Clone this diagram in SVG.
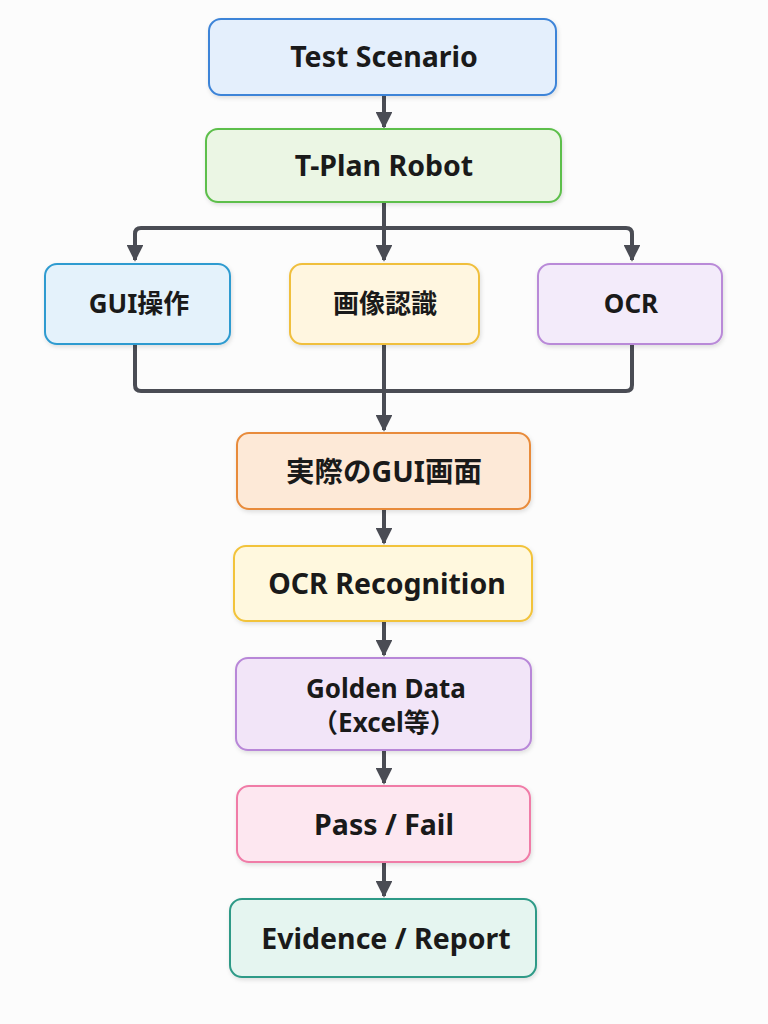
<svg xmlns="http://www.w3.org/2000/svg" width="768" height="1024" viewBox="0 0 768 1024">
<defs>
<marker id="ah" viewBox="0 0 10 10" refX="9" refY="5" markerWidth="4.2" markerHeight="4.2" markerUnits="strokeWidth" orient="auto">
<path d="M0,0 L10,5 L0,10 z" fill="#4a4c54"/>
</marker>
<filter id="sh" x="-10%" y="-10%" width="120%" height="130%">
<feDropShadow dx="1" dy="2" stdDeviation="2" flood-color="#000" flood-opacity="0.12"/>
</filter>
<style>
.n{stroke-width:2;filter:url(#sh)}
.t{font-family:"Noto Sans","Noto Sans CJK JP",sans-serif;font-weight:700;font-size:28.5px;fill:#1a1a1a;text-anchor:middle;dominant-baseline:central}
.s{font-size:26px}
.c{fill:none;stroke:#4a4c54;stroke-width:4;stroke-linejoin:round}
</style>
</defs>
<rect width="768" height="1024" fill="#fcfcfc"/>
<g id="connectors">
<path class="c" d="M384,96 V127" marker-end="url(#ah)"/>
<path class="c" d="M384,203 V260" marker-end="url(#ah)"/>
<path class="c" d="M384,228 H141 Q135,228 135,234 V260" marker-end="url(#ah)"/>
<path class="c" d="M384,228 H626 Q632,228 632,234 V260" marker-end="url(#ah)"/>
<path class="c" d="M135,345 V385 Q135,391 141,391 H626 Q632,391 632,385 V345"/>
<path class="c" d="M384,345 V430" marker-end="url(#ah)"/>
<path class="c" d="M384,510 V543" marker-end="url(#ah)"/>
<path class="c" d="M384,622 V655" marker-end="url(#ah)"/>
<path class="c" d="M384,751 V783" marker-end="url(#ah)"/>
<path class="c" d="M384,863 V896" marker-end="url(#ah)"/>
</g>
<g id="test-scenario"><rect class="n" x="209" y="19" width="347" height="76" rx="12" fill="#e4effc" stroke="#3d84d8"/><text class="t" x="384" y="56">Test Scenario</text></g>
<g id="t-plan-robot"><rect class="n" x="206" y="129" width="355" height="73" rx="12" fill="#ebf6e4" stroke="#5dbf4b"/><text class="t" x="384" y="165">T-Plan Robot</text></g>
<g id="gui-ops"><rect class="n" x="45" y="264" width="185" height="80" rx="12" fill="#e4f2fb" stroke="#2f9bd0"/><text class="t s" x="139" y="303">GUI操作</text></g>
<g id="image-recog"><rect class="n" x="290" y="264" width="189" height="80" rx="12" fill="#fff6e0" stroke="#f0bf3e"/><text class="t s" x="385" y="303">画像認識</text></g>
<g id="ocr"><rect class="n" x="538" y="264" width="184" height="80" rx="12" fill="#f3ebfa" stroke="#b98ad8"/><text class="t s" x="631" y="303">OCR</text></g>
<g id="actual-gui"><rect class="n" x="237" y="433" width="293" height="76" rx="12" fill="#fde9d7" stroke="#e88b3b"/><text class="t" x="384" y="471">実際のGUI画面</text></g>
<g id="ocr-recognition"><rect class="n" x="234" y="546" width="298" height="75" rx="12" fill="#fff8de" stroke="#f2c33a"/><text class="t" x="387" y="583">OCR Recognition</text></g>
<g id="golden-data"><rect class="n" x="236" y="658" width="295" height="92" rx="12" fill="#f2e5f8" stroke="#b887d8"/><text class="t s" x="386" y="688">Golden Data</text><text class="t s" x="384" y="722">（Excel等）</text></g>
<g id="pass-fail"><rect class="n" x="237" y="786" width="293" height="76" rx="12" fill="#fde7f0" stroke="#f07ba7"/><text class="t" x="384" y="824">Pass / Fail</text></g>
<g id="evidence-report"><rect class="n" x="230" y="899" width="306" height="78" rx="12" fill="#e5f5f0" stroke="#2f9a87"/><text class="t" x="386" y="938">Evidence / Report</text></g>
</svg>
